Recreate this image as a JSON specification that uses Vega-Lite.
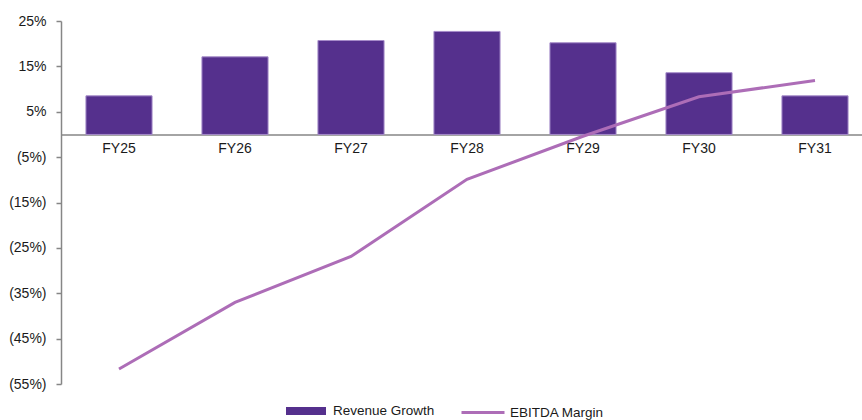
{
  "$schema": "https://vega.github.io/schema/vega-lite/v6.json",
  "width": 812,
  "height": 363,
  "autosize": {"type": "none"},
  "padding": {"left": 61, "top": 21, "right": 0, "bottom": 36},
  "background": "white",
  "config": {
    "font": "Liberation Sans",
    "view": {"stroke": null},
    "axis": {"labelColor": "#1a1a1a", "grid": false}
  },
  "data": {
    "values": [
      {"year": "FY25", "revenue": 8.5, "ebitda": -51.7},
      {"year": "FY26", "revenue": 17.1, "ebitda": -37.0},
      {"year": "FY27", "revenue": 20.7, "ebitda": -26.9},
      {"year": "FY28", "revenue": 22.7, "ebitda": -9.9},
      {"year": "FY29", "revenue": 20.2, "ebitda": -0.4},
      {"year": "FY30", "revenue": 13.6, "ebitda": 8.3},
      {"year": "FY31", "revenue": 8.5, "ebitda": 11.9}
    ]
  },
  "encoding": {
    "x": {
      "field": "year",
      "type": "nominal",
      "sort": null,
      "scale": {"paddingInner": 0.43, "paddingOuter": 0.215},
      "axis": {
        "title": null,
        "orient": "bottom",
        "offset": -249.5,
        "domainColor": "#868686",
        "domainWidth": 1.5,
        "ticks": false,
        "labelAngle": 0,
        "labelFontSize": 14,
        "labelPadding": 7
      }
    }
  },
  "layer": [
    {
      "mark": {"type": "bar", "stroke": "#A58BC9", "strokeWidth": 1},
      "encoding": {
        "y": {
          "field": "revenue",
          "type": "quantitative",
          "scale": {"domain": [-55, 25], "nice": false, "zero": false},
          "axis": {
            "title": null,
            "values": [-55, -45, -35, -25, -15, -5, 5, 15, 25],
            "labelExpr": "datum.value < 0 ? '(' + abs(datum.value) + '%)' : datum.value + '%\u00a0'",
            "domainColor": "#868686",
            "domainWidth": 1.5,
            "tickColor": "#868686",
            "tickWidth": 1.5,
            "tickSize": 5,
            "labelPadding": 10,
            "labelFontSize": 14
          }
        },
        "y2": {"datum": 0},
        "fill": {
          "datum": "Revenue Growth",
          "scale": {"domain": ["Revenue Growth"], "range": ["#55308D"]},
          "legend": {
            "title": null,
            "orient": "none",
            "legendX": 225,
            "legendY": 370,
            "padding": 0,
            "symbolType": "M-1,-0.2H1V0.2H-1Z",
            "symbolSize": 1600,
            "symbolStrokeWidth": 0,
            "symbolFillColor": "#55308D",
            "symbolOpacity": 1,
            "labelFontSize": 13.5,
            "labelOffset": 7,
            "labelColor": "#1a1a1a"
          }
        }
      }
    },
    {
      "mark": {"type": "line", "strokeWidth": 3},
      "encoding": {
        "y": {"field": "ebitda", "type": "quantitative", "axis": {"title": null}},
        "stroke": {
          "datum": "EBITDA Margin",
          "scale": {"domain": ["EBITDA Margin"], "range": ["#AD6DB7"]},
          "legend": {
            "title": null,
            "orient": "none",
            "legendX": 399,
            "legendY": 368.5,
            "padding": 0,
            "symbolType": "stroke",
            "symbolSize": 1849,
            "symbolStrokeWidth": 3,
            "labelFontSize": 13.5,
            "labelOffset": 4,
            "labelColor": "#1a1a1a"
          }
        }
      }
    }
  ]
}
